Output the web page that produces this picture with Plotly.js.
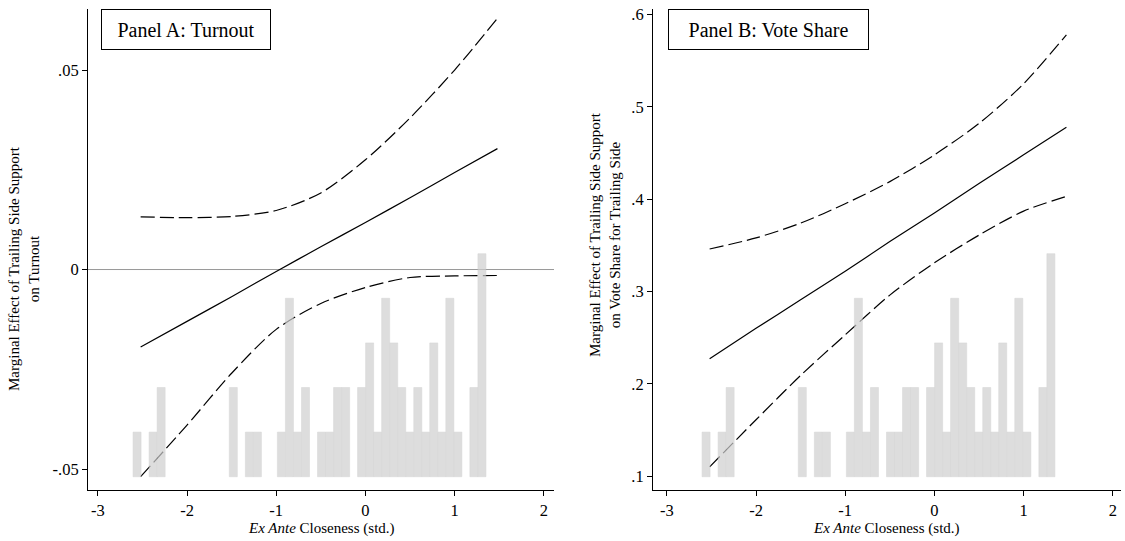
<!DOCTYPE html>
<html><head><meta charset="utf-8">
<script src="https://cdn.plot.ly/plotly-3.0.1.min.js"></script>
<style>html,body{margin:0;padding:0;background:#fff}#chart{width:1125px;height:541px}</style>
</head><body><div id="chart"></div>
<script>
// x grid on which the fitted lines were read
const curveX = [-2.52, -2.0, -1.5, -1.0, -0.5, 0.0, 0.5, 1.0, 1.48];
// Panel A: Turnout
const turnoutEst   = [-0.0194, -0.0130, -0.0068, -0.0005, 0.0057, 0.0118, 0.0180, 0.0243, 0.0303];
const turnoutUpper = [0.0132, 0.0130, 0.0133, 0.0148, 0.0192, 0.0275, 0.0380, 0.0500, 0.0630];
const turnoutLower = [-0.0519, -0.0390, -0.0260, -0.0150, -0.0085, -0.0045, -0.0020, -0.0016, -0.0015];
// Panel B: Vote share
const shareEst   = [0.227, 0.260, 0.291, 0.322, 0.354, 0.385, 0.417, 0.448, 0.478];
const shareUpper = [0.346, 0.358, 0.374, 0.395, 0.419, 0.448, 0.482, 0.525, 0.578];
const shareLower = [0.110, 0.161, 0.209, 0.253, 0.296, 0.331, 0.361, 0.387, 0.403];
// Histogram of ex ante closeness (bin centres and counts)
const binCenters = [-2.560, -2.380, -2.290, -1.481, -1.301, -1.211, -0.942, -0.852, -0.762, -0.672,
                    -0.492, -0.402, -0.312, -0.222, -0.043, 0.047, 0.137, 0.227, 0.317, 0.407,
                    0.497, 0.587, 0.676, 0.766, 0.856, 0.946, 1.036, 1.216, 1.306];
const binCounts  = [1, 1, 2, 2, 1, 1, 1, 4, 1, 2,
                    1, 1, 2, 2, 2, 3, 1, 4, 3, 2,
                    1, 2, 1, 3, 1, 4, 1, 2, 5];
const binWidth = 0.0899;

const xTickVals = [-3, -2, -1, 0, 1, 2];
const xTickText = ['-3', '-2', '-1', '0', '1', '2'];
const yATickVals = [-0.05, 0, 0.05];
const yATickText = ['-.05', '0', '.05'];
const yBTickVals = [0.1, 0.2, 0.3, 0.4, 0.5, 0.6];
const yBTickText = ['.1', '.2', '.3', '.4', '.5', '.6'];

const FONT = 'Liberation Serif, Times New Roman, serif';
const W = 1125, H = 541;
const px = v => v / W, py = v => 1 - v / H;

function line(x, y, xa, ya, dash) {
  return {x: x, y: y, xaxis: xa, yaxis: ya, type: 'scatter', mode: 'lines',
          line: {color: '#000', width: 1.2, dash: dash, shape: 'spline', smoothing: 0.8},
          hoverinfo: 'skip', showlegend: false};
}
function hist(xa, ya) {
  return {x: binCenters, y: binCounts, xaxis: xa, yaxis: ya, type: 'bar', width: binWidth,
          opacity: 0.7,
          marker: {color: '#d0d0d0', line: {color: '#c2c2c2', width: 0.5}},
          hoverinfo: 'skip', showlegend: false};
}
const DASH = '14px,5px';
const traces = [
  line(curveX, turnoutEst, 'x', 'y', 'solid'),
  line(curveX, turnoutUpper, 'x', 'y', DASH),
  line(curveX, turnoutLower, 'x', 'y', DASH),
  line(curveX, shareEst, 'x2', 'y2', 'solid'),
  line(curveX, shareUpper, 'x2', 'y2', DASH),
  line(curveX, shareLower, 'x2', 'y2', DASH),
  hist('x', 'y3'),
  hist('x2', 'y4')
];

const axisBase = {showline: true, linecolor: '#000', linewidth: 1, ticks: 'outside', ticklen: 5,
                  tickcolor: '#000', tickwidth: 1, showgrid: false, zeroline: false,
                  tickfont: {family: FONT, size: 16.5, color: '#000'}, fixedrange: true};
const yDom = [1 - 490 / H, 1 - 9 / H];
const histRange = [-0.298, 10.486];

const layout = {
  width: W, height: H, margin: {l: 0, r: 0, t: 0, b: 0},
  paper_bgcolor: '#fff', plot_bgcolor: 'rgba(0,0,0,0)', bargap: 0, showlegend: false,
  font: {family: FONT, color: '#000'},
  xaxis: Object.assign({}, axisBase, {domain: [px(88), px(554)], range: [-3.11, 2.114],
          tickvals: xTickVals, ticktext: xTickText, anchor: 'y'}),
  yaxis: Object.assign({}, axisBase, {domain: yDom, range: [-0.05526, 0.0653],
          tickvals: yATickVals, ticktext: yATickText, anchor: 'x'}),
  xaxis2: Object.assign({}, axisBase, {domain: [px(653), px(1121)], range: [-3.155, 2.092],
          tickvals: xTickVals, ticktext: xTickText, anchor: 'y2'}),
  yaxis2: Object.assign({}, axisBase, {domain: yDom, range: [0.0849, 0.6060],
          tickvals: yBTickVals, ticktext: yBTickText, anchor: 'x2'}),
  yaxis3: {overlaying: 'y', range: histRange, visible: false, fixedrange: true, anchor: 'x'},
  yaxis4: {overlaying: 'y2', range: histRange, visible: false, fixedrange: true, anchor: 'x2'},
  shapes: [{type: 'line', xref: 'x domain', yref: 'y', x0: 0, x1: 1, y0: 0, y1: 0,
            line: {color: '#999', width: 1}, layer: 'below'}],
  annotations: [
    {text: 'Panel A: Turnout', xref: 'paper', yref: 'paper', x: px(101), y: py(9),
     xanchor: 'left', yanchor: 'top', showarrow: false, font: {family: FONT, size: 20, color: '#000'},
     bordercolor: '#000', borderwidth: 1, borderpad: 0, width: 168, height: 39, bgcolor: '#fff'},
    {text: 'Panel B: Vote Share', xref: 'paper', yref: 'paper', x: px(668), y: py(9),
     xanchor: 'left', yanchor: 'top', showarrow: false, font: {family: FONT, size: 20, color: '#000'},
     bordercolor: '#000', borderwidth: 1, borderpad: 0, width: 199, height: 39, bgcolor: '#fff'},
    {text: 'Marginal Effect of Trailing Side Support<br>on Turnout', xref: 'paper', yref: 'paper',
     x: px(24), y: py(269), xanchor: 'center', yanchor: 'middle', textangle: -90, showarrow: false,
     font: {family: FONT, size: 15, color: '#000'}},
    {text: 'Marginal Effect of Trailing Side Support<br>on Vote Share for Trailing Side', xref: 'paper', yref: 'paper',
     x: px(605), y: py(235), xanchor: 'center', yanchor: 'middle', textangle: -90, showarrow: false,
     font: {family: FONT, size: 15, color: '#000'}},
    {text: '<i>Ex Ante</i> Closeness (std.)', xref: 'paper', yref: 'paper', x: px(321), y: py(528),
     xanchor: 'center', yanchor: 'middle', showarrow: false, font: {family: FONT, size: 15, color: '#000'}},
    {text: '<i>Ex Ante</i> Closeness (std.)', xref: 'paper', yref: 'paper', x: px(887), y: py(528),
     xanchor: 'center', yanchor: 'middle', showarrow: false, font: {family: FONT, size: 15, color: '#000'}}
  ]
};
Plotly.newPlot('chart', traces, layout, {displayModeBar: false, staticPlot: true});
</script>
</body></html>
